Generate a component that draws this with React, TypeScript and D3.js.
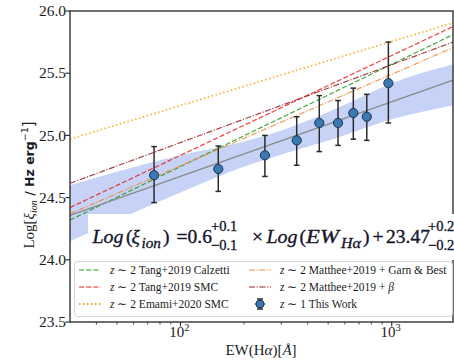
import React from 'react';
import * as d3 from 'd3';

// this work, z ~ 1 stacks
const ewValues = [75, 151, 251, 355, 454, 557, 658, 762, 964];
const xiValues = [24.68, 24.73, 24.84, 24.96, 25.1, 25.1, 25.18, 25.15, 25.42];
const xiUpper = [24.91, 24.915, 25.0, 25.15, 25.32, 25.28, 25.38, 25.33, 25.75];
const xiLower = [24.46, 24.55, 24.67, 24.76, 24.87, 24.92, 24.97, 24.96, 25.1];

// fit + confidence band
const fitSlope = 0.6;
const fitIntercept = 23.47;
const bandEW = [30, 100, 190, 350, 570, 1000, 1950];
const bandUpper = [24.6, 24.84, 24.94, 25.08, 25.23, 25.42, 25.57];
const bandLower = [24.15, 24.54, 24.735, 24.88, 24.99, 25.13, 25.24];

// literature relations, values at the two ends of the EW range
const relationEW = [30, 1950];
const tangCalzetti = [24.32, 25.81];
const tangSMC = [24.42, 25.875];
const emamiSMC = [24.97, 25.905];
const mattheeGarn = [24.37, 25.705];
const mattheeBeta = [24.615, 25.75];

const yTicks = [23.5, 24.0, 24.5, 25.0, 25.5, 26.0];
const xMajor = [100, 1000];
const xMinor = [40, 50, 60, 70, 80, 90, 200, 300, 400, 500, 600, 700, 800, 900];

const relations = [
  { name: 'Tang+2019 Calzetti', z: '2', vals: tangCalzetti, color: '#1f9a1f', dash: '5,2.2', width: 1.2 },
  { name: 'Tang+2019 SMC', z: '2', vals: tangSMC, color: '#f01c1c', dash: '5,2.2', width: 1.2 },
  { name: 'Emami+2020 SMC', z: '2', vals: emamiSMC, color: '#ffa51a', dash: '1.5,2.5', width: 1.8 },
  { name: 'Matthee+2019 + Garn & Best', z: '2', vals: mattheeGarn, color: '#f08a3c', dash: '6,1.6,1.2,1.6', width: 1.2 },
  { name: 'Matthee+2019 + ', z: '2', vals: mattheeBeta, color: '#9b1f22', dash: '6,1.6,1.2,1.6', width: 1.2 },
];

const W = 454;
const H = 360;
const left = 70, right = 453, top = 11, bottom = 322;
const serif = '"Liberation Serif", "Times New Roman", serif';
const ink = '#1b1b24';

export default function App() {
  const x = d3.scaleLog().domain([30, 1950]).range([left, right]);
  const y = d3.scaleLinear().domain([23.5, 26.0]).range([bottom, top]);

  const band = d3.area<number>()
    .x((d) => x(d))
    .y0((d, i) => y(bandLower[i]))
    .y1((d, i) => y(bandUpper[i]))
    .curve(d3.curveMonotoneX);

  const lineFn = d3.line<number>().x((d) => x(d[0])).y((d) => y(d[1]));
  const fitPath = lineFn(relationEW.map((e) => [e, fitSlope * Math.log10(e) + fitIntercept]) as any);

  const cap = 2.8;
  const legendRows = [270, 287, 304];
  const col1 = 79, col2 = 249;

  return (
    <svg width={W} height={H} style={{ position: 'absolute', left: 0, top: 0 }} fontFamily={serif}>
      <rect x={0} y={0} width={W} height={H} fill="#fff" />

      <path d={band(bandEW) || ''} fill="#4169e1" fillOpacity={0.3} />

      {relations.map((r, i) => (
        <path key={i} d={lineFn(relationEW.map((e, j) => [e, r.vals[j]]) as any) || ''}
          fill="none" stroke={r.color} strokeWidth={r.width} strokeDasharray={r.dash} strokeOpacity={0.85} />
      ))}

      <path d={fitPath || ''} fill="none" stroke="#8a8a8a" strokeWidth={1.3} />

      {ewValues.map((e, i) => (
        <g key={i} stroke="#2b2b2b" strokeWidth={1.5}>
          <line x1={x(e)} x2={x(e)} y1={y(xiUpper[i])} y2={y(xiLower[i])} />
          <line x1={x(e) - cap} x2={x(e) + cap} y1={y(xiUpper[i])} y2={y(xiUpper[i])} />
          <line x1={x(e) - cap} x2={x(e) + cap} y1={y(xiLower[i])} y2={y(xiLower[i])} />
        </g>
      ))}
      {ewValues.map((e, i) => (
        <circle key={i} cx={x(e)} cy={y(xiValues[i])} r={4.6} fill="#3a78b2" stroke="#1d3550" strokeWidth={1} />
      ))}

      {/* axes frame */}
      <rect x={left} y={top} width={right - left} height={bottom - top} fill="none" stroke="#333" strokeWidth={1.4} />

      {yTicks.map((t) => (
        <g key={t}>
          <line x1={left - 4.5} x2={left} y1={y(t)} y2={y(t)} stroke="#333" strokeWidth={1.2} />
          <text x={left - 4} y={y(t)} dy="0.33em" textAnchor="end" fontSize={15.5} fill={ink}>{t.toFixed(1)}</text>
        </g>
      ))}
      {xMajor.map((t) => (
        <g key={t}>
          <line x1={x(t)} x2={x(t)} y1={bottom} y2={bottom + 4.5} stroke="#333" strokeWidth={1.2} />
          <text x={x(t) - 1} y={bottom + 15} textAnchor="middle" fontSize={15} fill={ink}>
            10<tspan fontSize={10.5} dy={-6}>{Math.round(Math.log10(t))}</tspan>
          </text>
        </g>
      ))}
      {xMinor.map((t) => (
        <line key={t} x1={x(t)} x2={x(t)} y1={bottom} y2={bottom + 2.5} stroke="#333" strokeWidth={0.9} />
      ))}

      {/* axis labels */}
      <text x={261} y={355} textAnchor="middle" fontSize={15} fill={ink}>
        EW(H<tspan fontStyle="italic">α</tspan>)[<tspan fontStyle="italic">Å</tspan>]
      </text>
      <text transform="translate(34,185) rotate(-90)" textAnchor="middle" fontSize={15} fill={ink}>
        Log[<tspan fontStyle="italic">ξ</tspan><tspan fontStyle="italic" fontSize={10} dy={3}>ion</tspan>
        <tspan dy={-3} fontFamily='"DejaVu Sans", sans-serif' fontWeight="bold" fontSize={12.5}> / Hz erg</tspan>
        <tspan dy={-6} fontSize={9.5} fontFamily='"DejaVu Sans", sans-serif'>−1</tspan>
        <tspan dy={6} fontFamily='"DejaVu Sans", sans-serif'>]</tspan>
      </text>

      {/* fit equation with white box */}
      <rect x={88} y={214} width={400} height={46} fill="#fff" />
      <g fontSize={19.5} fill="#15152a" stroke="#15152a" strokeWidth={0.35}>
        <text x={92.5} y={243} fontStyle="italic" textLength={31} lengthAdjust="spacingAndGlyphs">Log</text>
        <text x={126} y={243}>(</text>
        <text x={131.5} y={243} fontStyle="italic">ξ</text>
        <text x={141.5} y={247.5} fontStyle="italic" fontSize={15} textLength={19.5} lengthAdjust="spacingAndGlyphs">ion</text>
        <text x={163} y={243}>)</text>
        <text x={176.5} y={243}>=</text>
        <text x={187.5} y={243}>0.6</text>
        <text x={211} y={231} fontSize={14.5}>+0.1</text>
        <text x={211} y={249.5} fontSize={14.5}>−0.1</text>
        <text x={252} y={243}>×</text>
        <text x={266.5} y={243} fontStyle="italic" textLength={31} lengthAdjust="spacingAndGlyphs">Log</text>
        <text x={299.5} y={243}>(</text>
        <text x={306} y={243} fontStyle="italic" textLength={33} lengthAdjust="spacingAndGlyphs">EW</text>
        <text x={341} y={247.5} fontStyle="italic" fontSize={15} textLength={20} lengthAdjust="spacingAndGlyphs">Hα</text>
        <text x={363} y={243}>)</text>
        <text x={372.5} y={243}>+</text>
        <text x={386} y={243}>23.47</text>
        <text x={428} y={231} fontSize={14.5}>+0.2</text>
        <text x={428} y={249.5} fontSize={14.5}>−0.2</text>
      </g>

      {/* legend */}
      <rect x={74.5} y={261.5} width={378} height={55} rx={3} fill="#fff" fillOpacity={0.9} stroke="#d4d4d4" strokeWidth={1} />
      {relations.map((r, i) => {
        const cx = i < 3 ? col1 : col2;
        const ry = legendRows[i < 3 ? i : i - 3];
        return (
          <g key={i}>
            <line x1={cx} x2={cx + 22} y1={ry} y2={ry} stroke={r.color} strokeWidth={r.width} strokeDasharray={r.dash} />
            <text x={cx + 31} y={ry} dy="0.35em" fontSize={11.5} fill={ink}>
              <tspan fontStyle="italic">z</tspan> ∼ {r.z} {r.name}
              {i === 4 ? <tspan fontStyle="italic">β</tspan> : null}
            </text>
          </g>
        );
      })}
      <g stroke="#2b2b2b" strokeWidth={1.5}>
        <line x1={col2 + 11} x2={col2 + 11} y1={legendRows[2] - 5} y2={legendRows[2] + 5} />
        <line x1={col2 + 8} x2={col2 + 14} y1={legendRows[2] - 5} y2={legendRows[2] - 5} />
        <line x1={col2 + 8} x2={col2 + 14} y1={legendRows[2] + 5} y2={legendRows[2] + 5} />
        <line x1={col2 + 6} x2={col2 + 16} y1={legendRows[2]} y2={legendRows[2]} />
      </g>
      <circle cx={col2 + 11} cy={legendRows[2]} r={4} fill="#3a78b2" stroke="#1d3550" strokeWidth={1} />
      <text x={col2 + 31} y={legendRows[2]} dy="0.35em" fontSize={11.5} fill={ink}>
        <tspan fontStyle="italic">z</tspan> ∼ 1 This Work
      </text>
    </svg>
  );
}
